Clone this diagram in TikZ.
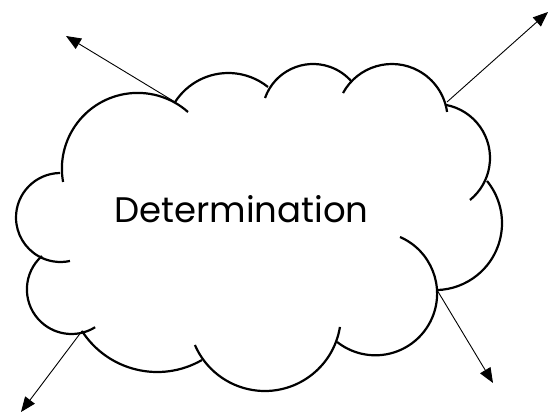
\documentclass[tikz,border=0pt]{standalone}
\usepackage{fontspec}
\setmainfont{Poppins}
\usetikzlibrary{arrows.meta}
\tikzset{
    cloudline/.style={draw=black, line width=2.2pt},
    spoke/.style={draw=black, line width=0.9pt, -{Triangle[length=15pt,width=12pt]}},
    word/.style={font=\fontsize{35.5}{42}\selectfont, inner sep=0pt, anchor=base}
}
\begin{document}
\begin{tikzpicture}[x=1pt,y=1pt]
    \useasboundingbox (0,0) rectangle (559,412);
    % lobes of the cloud: centre x / centre y / radius / from / to
    \foreach \cx/\cy/\r/\a/\b in {
        137.7/243.3/75.8/190.1/48.4,
        228.3/275.7/63.3/147.2/51.2,
        313.1/297.0/51.0/160.5/40.3,
        391.9/292.3/55.7/151.4/8.0,
        436.0/254.0/54.0/80.4/-51,
        435.1/188.8/66.9/39.1/-88.4,
        375.4/118.4/61.7/66.5/-128.4,
        264.8/97.1/76.1/-9.1/-156.7,
        157.2/129.5/89.5/-147.2/-60,
        71.5/122.6/44.6/131.5/302,
        60.5/194.5/44.5/90.6/282.3}
    {
        \draw[cloudline] (\cx,\cy) ++(\a:\r) arc[start angle=\a, end angle=\b, radius=\r];
    }
    \node[word] (label) at (241.5,189) {Determination};

    \coordinate (cnw) at (175,310);
    \coordinate (cne) at (447,310);
    \coordinate (csw) at (82,81);
    \coordinate (cse) at (437,122);
    \coordinate (tnw) at (66,376);
    \coordinate (tne) at (548,400);
    \coordinate (tsw) at (21,0);
    \coordinate (tse) at (493,29);

    \draw[spoke] (cnw) -- (tnw);
    \draw[spoke] (cne) -- (tne);
    \draw[spoke] (csw) -- (tsw);
    \draw[spoke] (cse) -- (tse);
\end{tikzpicture}
\end{document}
